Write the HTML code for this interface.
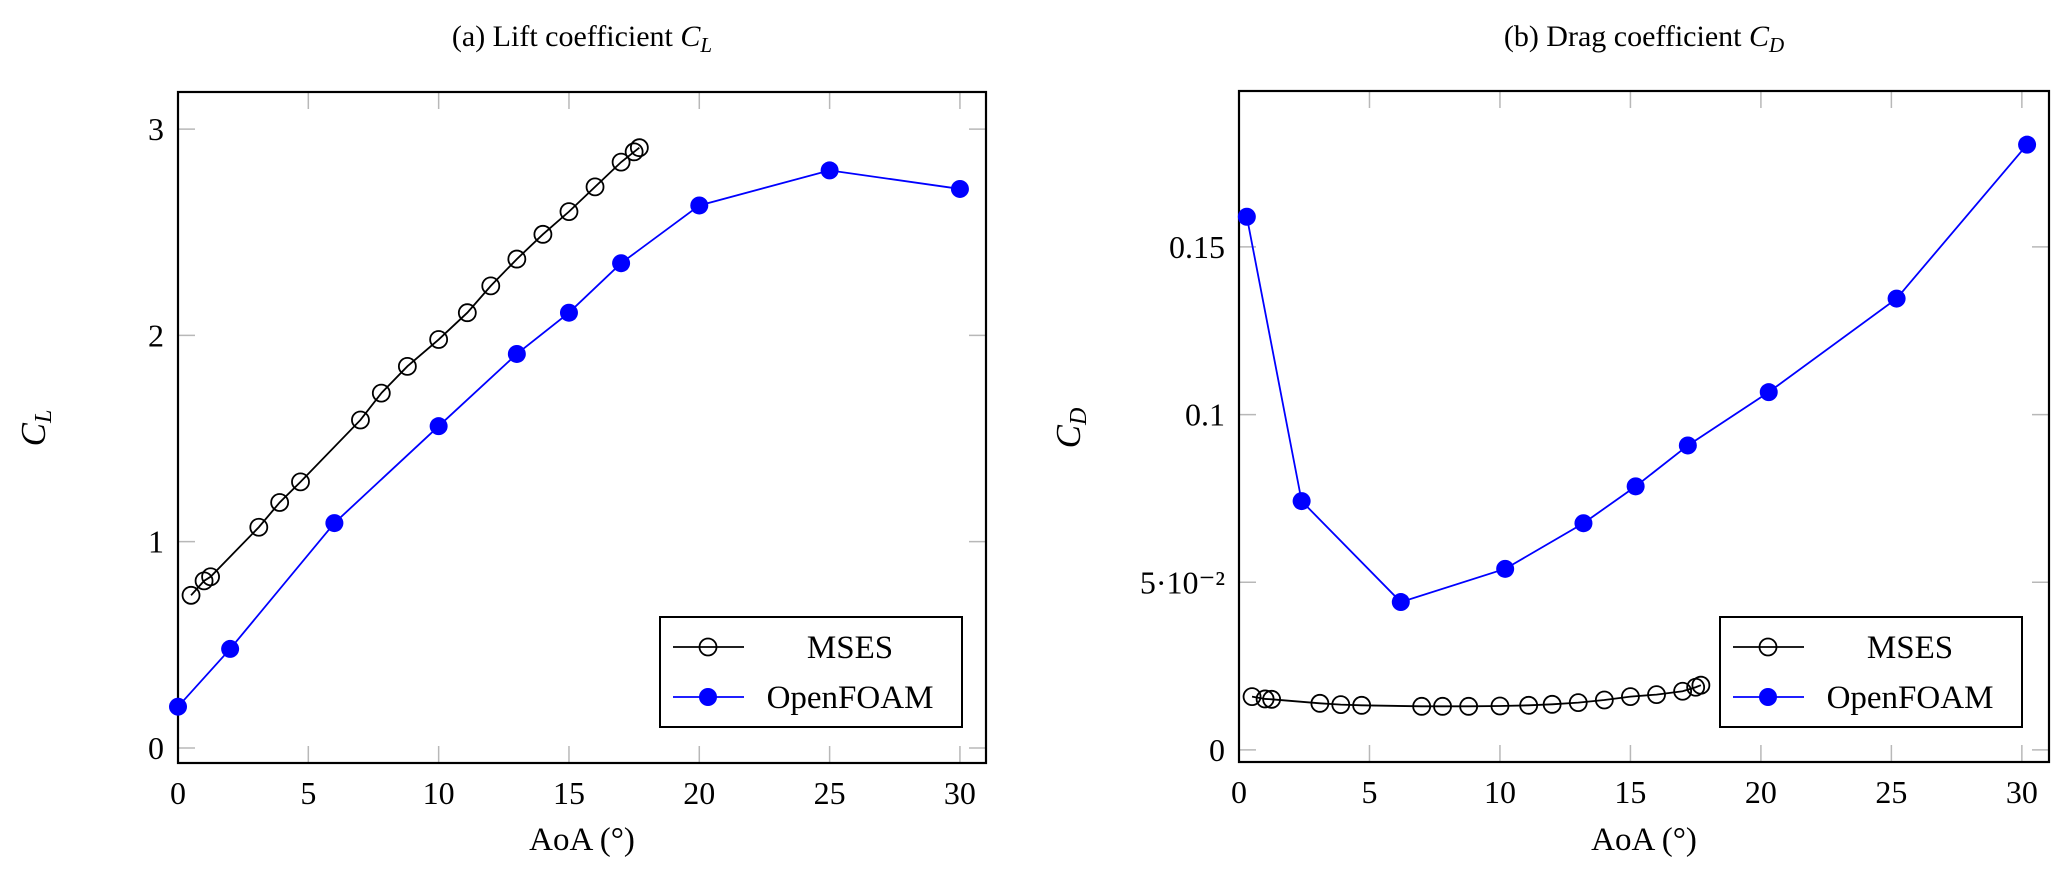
<!DOCTYPE html>
<html><head><meta charset="utf-8"><style>
html,body{margin:0;padding:0;background:#fff;}
svg{display:block;font-family:"Liberation Serif",serif;}
</style></head><body>
<svg id="fig" width="2067" height="889" viewBox="0 0 2067 889" xmlns="http://www.w3.org/2000/svg"></svg>
<script>
// ---- data ----
const msesAoA = [0.5,1.0,1.25,3.1,3.9,4.7,7.0,7.8,8.8,10.0,11.1,12.0,13.0,14.0,15.0,16.0,17.0,17.5,17.7];
const msesCL  = [0.74,0.81,0.83,1.07,1.19,1.29,1.59,1.72,1.85,1.98,2.11,2.24,2.37,2.49,2.60,2.72,2.84,2.89,2.91];
const ofAoA_L = [0,2,6,10,13,15,17,20,25,30];
const ofCL    = [0.20,0.48,1.09,1.56,1.91,2.11,2.35,2.63,2.80,2.71];
const msesCD  = [0.0159,0.0152,0.0151,0.0139,0.0135,0.0133,0.0130,0.0130,0.0130,0.0131,0.0133,0.0136,0.0141,0.0149,0.0159,0.0165,0.0175,0.0187,0.0193];
const ofAoA_D = [0.3,2.4,6.2,10.2,13.2,15.2,17.2,20.3,25.2,30.2];
const ofCD    = [0.159,0.0742,0.0441,0.0540,0.0676,0.0786,0.0908,0.1067,0.1346,0.1805];
const xTicks = [0,5,10,15,20,25,30];
const yTicksL = [0,1,2,3];
const yTickLabelsL = ["0","1","2","3"];
const yTicksD = [0,0.05,0.1,0.15];
const yTickLabelsD = ["0","5\u00B710\u207B\u00B2","0.1","0.15"];

const NS="http://www.w3.org/2000/svg";
const svg=document.getElementById('fig');
function mk(tag,attrs,parent){const e=document.createElementNS(NS,tag);for(const k in attrs)e.setAttribute(k,attrs[k]);(parent||svg).appendChild(e);return e;}

function panel(o){
  const g=mk('g',{});
  
  
  const sx=v=>o.x0+(v-o.xmin)/(o.xmax-o.xmin)*(o.x1-o.x0);
  const sy=v=>o.y1-(v-o.ymin)/(o.ymax-o.ymin)*(o.y1-o.y0);
  xTicks.forEach(t=>{
    const x=sx(t);
    mk('line',{x1:x,y1:o.y1,x2:x,y2:o.y1-17,stroke:'#b8b8b8','stroke-width':1.5},g);
    mk('line',{x1:x,y1:o.y0,x2:x,y2:o.y0+17,stroke:'#b8b8b8','stroke-width':1.5},g);
    const tl=mk('text',{x:x,y:o.y1+41,'text-anchor':'middle','font-size':32},g);
    tl.textContent=String(t);
    
    
  });
  o.yt.forEach((t,i)=>{
    const y=sy(t);
    mk('line',{x1:o.x0,y1:y,x2:o.x0+17,y2:y,stroke:'#b8b8b8','stroke-width':1.5},g);
    mk('line',{x1:o.x1,y1:y,x2:o.x1-17,y2:y,stroke:'#b8b8b8','stroke-width':1.5},g);
    const tl=mk('text',{x:o.x0-14,y:y+11,'text-anchor':'end','font-size':32},g);
    tl.textContent=o.ytl[i];
    
    
  });
  const fr=mk('rect',{x:o.x0,y:o.y0,width:o.x1-o.x0,height:o.y1-o.y0,fill:'none',stroke:'#000','stroke-width':2.2},g);
  
  
  function series(xs,ys,color,filled,name){
    const sg=mk('g',{},g);
    
    
    mk('polyline',{points:xs.map((x,i)=>sx(x)+','+sy(ys[i])).join(' '),fill:'none',stroke:color,'stroke-width':1.8},sg);
    xs.forEach((x,i)=>{
      const c=mk('circle',{cx:sx(x),cy:sy(ys[i]),r:filled?9:8.5,fill:filled?color:'none',stroke:color,'stroke-width':filled?0:1.8},sg);
      
      
    });
  }
  series(o.mx,o.my,'#000',false,'mses-series');
  series(o.ox,o.oy,'#0000ff',true,'openfoam-series');
  const lg=mk('g',{},g);
  
  
  const L=o.leg;
  mk('rect',{x:L.x,y:L.y,width:L.w,height:L.h,fill:'#fff',stroke:'#000','stroke-width':2},lg);
  const rows=[['MSES','#000',false],['OpenFOAM','#0000ff',true]];
  rows.forEach((r,i)=>{
    const yy=L.y+30+i*50;
    const eg=mk('g',{},lg);
    
    
    mk('line',{x1:L.x+13,y1:yy,x2:L.x+84,y2:yy,stroke:r[1],'stroke-width':1.8},eg);
    mk('circle',{cx:L.x+48,cy:yy,r:r[2]?9:8.5,fill:r[2]?r[1]:'none',stroke:r[1],'stroke-width':r[2]?0:1.8},eg);
    const t=mk('text',{x:L.x+190,y:yy+11,'text-anchor':'middle','font-size':33},eg);
    t.textContent=r[0];
  });
  const ti=mk('text',{x:(o.x0+o.x1)/2,y:46,'text-anchor':'middle','font-size':30},g);
  ti.innerHTML=o.title+' <tspan font-style="italic">C</tspan><tspan font-style="italic" font-size="21" dy="6">'+o.sub+'</tspan>';
  
  
  const xl=mk('text',{x:(o.x0+o.x1)/2,y:850,'text-anchor':'middle','font-size':33},g);
  xl.textContent='AoA (\u00B0)';
  
  
  const yl=mk('text',{x:0,y:0,'text-anchor':'middle','font-size':35,transform:'translate('+(o.ylx)+','+428+') rotate(-90)'},g);
  yl.innerHTML='<tspan font-style="italic">C</tspan><tspan font-style="italic" font-size="24" dy="6">'+o.sub+'</tspan>';
  
  
}

panel({name:'lift-chart',x0:178,x1:986,y0:92,y1:763,xmin:0,xmax:31,ymin:-0.073,ymax:3.18,
  yt:yTicksL,ytl:yTickLabelsL,mx:msesAoA,my:msesCL,ox:ofAoA_L,oy:ofCL,
  leg:{x:660,y:617,w:302,h:110},title:'(a) Lift coefficient',sub:'L',ylx:45});
panel({name:'drag-chart',x0:1239,x1:2049,y0:91,y1:762,xmin:0,xmax:31.04,ymin:-0.0036,ymax:0.1965,
  yt:yTicksD,ytl:yTickLabelsD,mx:msesAoA,my:msesCD,ox:ofAoA_D,oy:ofCD,
  leg:{x:1720,y:617,w:302,h:110},title:'(b) Drag coefficient',sub:'D',ylx:1080});
</script>
</body></html>
